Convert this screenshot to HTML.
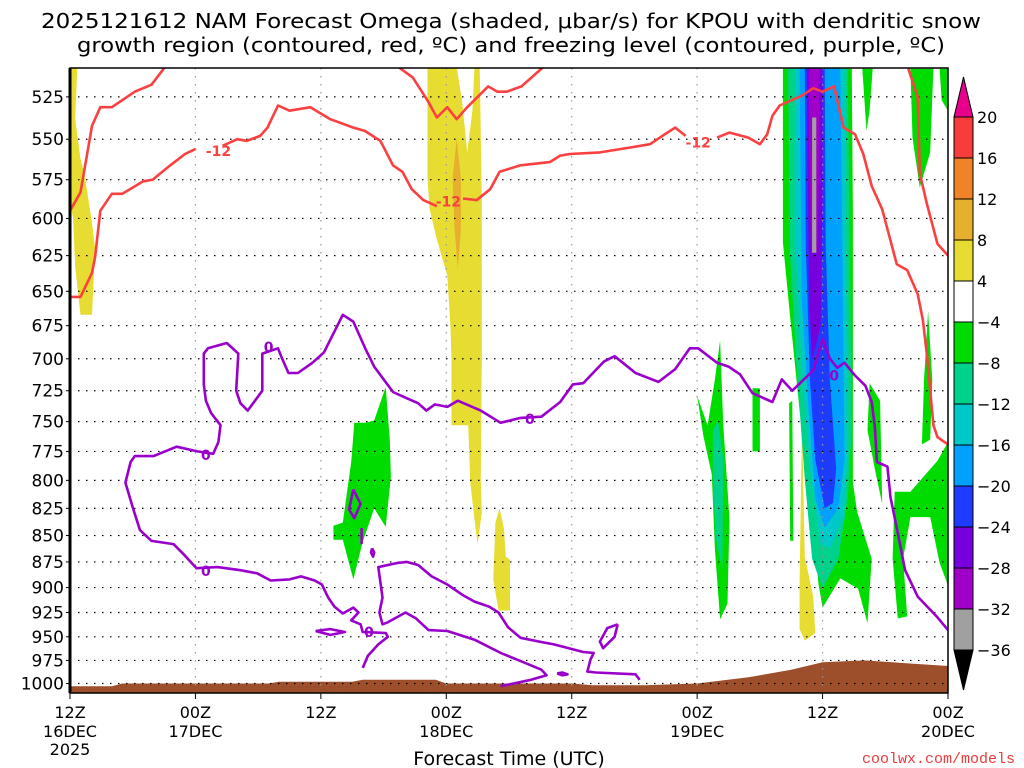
<!DOCTYPE html>
<html><head><meta charset="utf-8">
<style>
html,body{margin:0;padding:0;background:#fff;}
svg{display:block;font-family:"DejaVu Sans","Liberation Sans",sans-serif;}
</style></head>
<body>
<svg id="chart" width="1024" height="768" viewBox="0 0 1024 768" xmlns="http://www.w3.org/2000/svg">
<text x="511" y="28" font-size="20" text-anchor="middle" textLength="940" lengthAdjust="spacingAndGlyphs">2025121612 NAM Forecast Omega (shaded, μbar/s) for KPOU with dendritic snow</text>
<text x="511" y="52" font-size="20" text-anchor="middle" textLength="868" lengthAdjust="spacingAndGlyphs">growth region (contoured, red, ºC) and freezing level (contoured, purple, ºC)</text>
<g id="plot"></g>
<g id="cbar"></g>
<text x="509" y="765" font-size="19" text-anchor="middle">Forecast Time (UTC)</text>
<text x="1015" y="763" font-size="15" text-anchor="end" fill="#e83c3c" font-family="Liberation Mono, monospace">coolwx.com/models</text>
</svg>
<script>
// ---- data ----
const pressureTicks=[525,550,575,600,625,650,675,700,725,750,775,800,825,850,875,900,925,950,975,1000];
const timeTicks=[0,12,24,36,48,60,72,84];
const timeLabels=["12Z","00Z","12Z","00Z","12Z","00Z","12Z","00Z"];
const dateLabels=["16DEC","17DEC","","18DEC","","19DEC","","20DEC"];
const cbarLevels=[20,16,12,8,4,-4,-8,-12,-16,-20,-24,-28,-32,-36];
const cbarColors=["#f83c3c","#f08228","#e6af2d","#e6dc32","#ffffff","#00dc00","#00d28c","#00c8c8","#00a0ff","#1e3cff","#7800dc","#a000c8","#a0a0a0"];
const terrainHours=[0,4,5,19,20,27,28,35,36,48,50,55,60,65,69,72,76,80,84];
const terrainPres=[1003,1003,1000,1000,998,998,996,996,1000,1000,1002,1002,1000,993,985,977,975,978,981];
const yellowAreas=[
[[0,508],[0.7,508],[0.5,538],[1.0,562],[1.4,572],[2.1,603],[2.4,620],[2.1,667],[1.0,667],[0.5,633],[0.3,600],[0,588]],
[[34.2,508],[37.0,508],[37.5,527],[38.0,558],[38.5,533],[38.7,508],[39.2,508],[39.4,586],[39.4,701],[39.3,799],[39.4,829],[39.0,858],[38.7,835],[38.3,802],[38.1,753],[36.5,753],[36.5,701],[36.4,676],[36.1,639],[35.1,614],[34.4,594],[34.2,574]],
[[41.1,825],[41.5,843],[41.7,870],[42.1,873],[42.1,923],[41.0,923],[40.5,892],[40.7,838]],
[[70.0,737],[70.3,870],[71.1,909],[71.3,946],[70.3,954],[69.8,942],[69.8,895],[70.0,768]]];
const orangeAreas=[[[37.0,550],[37.4,574],[37.4,607],[37.1,634],[36.8,607],[36.6,574]]];
const greenAreas=[
[[68.2,509],[74.8,509],[74.9,595],[74.9,802],[75.3,828],[76.7,872],[76.3,936],[75.4,901],[73.7,891],[72.0,920],[71.6,896],[70.8,799],[69.8,741],[68.9,669],[68.2,616]],
[[60.0,729],[60.6,762],[61.4,795],[61.7,863],[62.2,932],[62.9,916],[63.1,835],[62.5,753],[62.2,686],[61.7,716],[61.0,753]],
[[65.3,723],[66.0,723],[66.0,775],[65.3,775]],
[[68.8,735],[69.1,733],[69.2,855],[68.9,855]],
[[76.5,719],[77.5,733],[77.7,821],[77.0,790],[76.3,757]],
[[78.9,810],[80.4,810],[83.0,783],[84,767],[84,898],[83.2,876],[82.3,833],[80.4,833],[79.7,872],[80.1,929],[79.2,931],[78.7,872]],
[[82.1,664],[82.5,717],[82.3,765],[81.5,769],[81.7,717]],
[[80.4,509],[82.6,509],[82.3,558],[81.3,580],[80.6,549]],
[[75.8,509],[76.8,509],[76.5,533],[76.2,545]],
[[30.2,722],[30.6,765],[30.7,797],[30.2,842],[29.1,825],[28.0,856],[27.1,892],[26.1,854],[25.2,854],[25.2,841],[26.1,838],[26.9,784],[27.2,751],[28.3,751],[29.1,749]],
[[83.2,509],[84,509],[84,533],[83.4,527]]];
const tealAreas=[
[[68.7,509],[74.4,509],[74.6,619],[74.8,757],[74.4,816],[73.5,872],[72.0,901],[71.0,872],[70.3,799],[69.6,717],[68.9,626]],
[[61.5,757],[62.0,749],[62.5,782],[62.4,882],[61.8,853],[61.5,799]]];
const cyanAreas=[[[69.4,509],[74.1,509],[74.3,655],[74.4,773],[74.0,834],[72.7,862],[71.8,858],[70.8,790],[70.1,717],[69.4,619]]];
const lightBlueAreas=[[[69.8,509],[73.7,509],[73.9,619],[74.1,782],[73.5,825],[72.2,843],[71.3,816],[70.6,733],[70.0,655]]];
const darkBlueAreas=[[[70.3,509],[72.2,509],[72.3,619],[72.7,717],[73.3,790],[73.0,820],[72.2,825],[71.3,782],[70.8,717],[70.4,619]]];
const purpleAreas=[[[70.5,509],[72.0,509],[72.0,586],[71.8,676],[71.0,701],[70.7,655]]];
const magentaAreas=[[[70.7,509],[71.7,509],[71.7,556],[71.5,623],[70.9,623],[70.7,556]]];
const grayAreas=[[[71.0,537],[71.4,537],[71.4,623],[71.0,623]]];
const redLines=[
[[9.1,508],[7.8,518],[6.2,522],[4.0,531],[2.9,531],[2.1,542],[1.4,568],[1.0,583],[0,595]],
[[0,654],[1.0,654],[2.1,637],[2.4,626],[2.9,595],[4.0,584],[5.0,584],[7.0,576],[7.9,575],[9.6,566],[11.0,559],[12.0,556]],
[[14.6,554],[16.0,550],[16.9,551],[18.2,548],[18.9,543],[19.9,530],[21.0,533],[23.0,531],[24.9,538],[27.1,543],[28.2,545],[29.7,551],[30.9,566],[31.8,570],[32.7,581],[33.8,588],[35.1,592]],
[[37.6,587],[38.9,588],[40.2,581],[41.1,570],[43.1,566],[45.9,564],[46.9,560],[47.8,559],[50.7,558],[53.6,555],[55.5,553],[56.9,547],[57.9,543],[58.9,548]],
[[61.9,549],[63.1,546],[64.9,549],[66.0,553],[66.7,547],[67.2,536],[67.9,530],[70.1,524],[71.1,520],[72.0,522],[73.1,519],[74.0,543],[75.1,547],[75.9,559],[76.7,579],[77.7,594],[79.1,631],[80.1,635],[81.1,652],[81.6,671],[82.0,698],[82.6,753],[83.0,763],[84,769]],
[[80.2,509],[81.1,525],[81.3,571],[82.0,591],[83.0,617],[84,625]],
[[31.4,508],[32.8,514],[34.2,527],[35.1,537],[36.1,531],[37.0,538],[38.0,531],[39.0,525],[40.0,519],[40.9,522],[41.8,522],[43.2,519],[45.3,508]]];
const redLabelPos=[[14.2,557],[36.2,589],[60.1,552]];
const purpleLines=[
[[28.0,983],[28.5,970],[29.5,958],[30.4,950],[30.2,946],[28.0,945],[27.8,937],[26.9,933],[27.6,925],[27.1,920],[26.1,926],[25.3,919],[24.7,910],[24.1,897],[23.4,893],[22.1,889],[21.0,892],[19.2,893],[17.9,886],[16.3,883],[14.1,880],[12.1,881],[11.0,869],[9.9,858],[7.8,855],[6.7,845],[6.0,824],[5.3,802],[5.8,784],[6.2,779],[8.0,779],[10.2,771],[12.2,775],[13.7,777],[14.2,767],[14.4,753],[13.5,743],[13.0,733],[12.8,720],[12.8,696],[13.2,692],[15.0,688],[16.1,696],[15.9,725],[16.3,735],[17.0,741],[17.7,733],[18.4,725],[18.4,696],[19.9,692],[20.3,700],[20.9,711],[21.8,711],[23.2,703],[24.3,695],[26.1,667],[27.1,672],[28.3,693],[29.1,706],[30.9,726],[32.2,731],[33.3,735],[34.1,741],[34.9,736],[36.1,738],[37.1,733],[39.3,741],[41.2,751],[43.1,747],[45.1,746],[46.9,734],[48.1,720],[49.1,719],[51.1,702],[52.1,698],[54.1,711],[56.3,718],[57.9,708],[59.3,692],[60.1,692],[61.9,703],[63.0,706],[64.1,712],[65.3,727],[67.2,734],[68.1,716],[69.1,725],[71.1,709],[72.0,685],[72.7,700],[73.4,707],[74.1,703],[75.1,713],[76.1,721],[76.7,734],[77.0,754],[77.2,784],[78.2,788],[78.5,815],[79.1,843],[79.9,883],[81.1,909],[83.0,930],[84,943]],
[[41.2,1003],[44.1,996],[45.6,991],[45.1,985],[43.4,977],[41.2,967],[38.7,953],[36.1,944],[34.3,943],[33.1,931],[32.1,925],[30.4,935],[29.9,937],[29.6,925],[29.9,910],[29.5,880],[31.3,876],[32.2,875],[33.3,878],[34.6,889],[36.1,897],[37.5,907],[38.7,914],[40.1,919],[41.0,925],[41.9,940],[43.1,951],[44.9,955],[46.3,958],[49.1,966],[50.1,967],[49.8,974],[49.5,987],[50.3,988],[54.1,990],[54.5,996]],
[[27.1,808],[27.8,821],[27.2,834],[26.7,826],[27.1,808]],
[[23.5,944],[24.9,942],[26.3,945],[24.9,948],[23.5,944]],
[[28.9,862],[29.1,866],[29.0,870],[28.8,866],[28.9,862]],
[[27.9,843],[27.9,858]],
[[46.6,989],[47.1,988],[47.6,990],[47.1,991],[46.6,989]],
[[52.4,937],[52.1,950],[51.0,962],[50.7,955],[51.4,941],[52.4,937]]];
const purpleLabelPos=[[13.0,778],[19.0,691],[44.0,748],[73.1,713],[13.0,884],[28.6,945]];

// ---- axes ----
const X0=70,X1=948,Y0=68,Y1=693,H0=0,H1=84,PTOP=508.6,PBOT=1010.5;
function xs(h){return X0+(h-H0)/(H1-H0)*(X1-X0);}
function ys(p){return Y0+Math.log(p/PTOP)/Math.log(PBOT/PTOP)*(Y1-Y0);}
const NS="http://www.w3.org/2000/svg";
function mk(tag,attrs,parent){const e=document.createElementNS(NS,tag);for(const k in attrs)e.setAttribute(k,attrs[k]);parent.appendChild(e);return e;}
const plot=document.getElementById('plot');
const defs=mk('defs',{},plot);
const cp=mk('clipPath',{id:'clip'},defs);
mk('rect',{x:X0,y:Y0,width:X1-X0,height:Y1-Y0},cp);
const inner=mk('g',{'clip-path':'url(#clip)'},plot);


function ptsStr(arr){return arr.map(d=>xs(d[0]).toFixed(1)+','+ys(d[1]).toFixed(1)).join(' ');}
function fillAreas(list,color,name){
  list.forEach(a=>{const e=mk('polygon',{points:ptsStr(a),fill:color},inner);
    
    });
}
fillAreas(yellowAreas,"#e6dc32","omega-shade-4-8");
fillAreas(orangeAreas,"#e6af2d","omega-shade-8-12");
fillAreas(greenAreas,"#00dc00","omega-shade-neg4-neg8");
fillAreas(tealAreas,"#00d28c","omega-shade-neg8-neg12");
fillAreas(cyanAreas,"#00c8c8","omega-shade-neg12-neg16");
fillAreas(lightBlueAreas,"#00a0ff","omega-shade-neg16-neg20");
fillAreas(darkBlueAreas,"#1e3cff","omega-shade-neg20-neg24");
fillAreas(purpleAreas,"#7800dc","omega-shade-neg24-neg28");
fillAreas(magentaAreas,"#a000c8","omega-shade-neg28-neg32");
fillAreas(grayAreas,"#a0a0a0","omega-shade-neg32-neg36");
// terrain
{let pts=terrainHours.map((h,i)=>[h,terrainPres[i]]);
 let s=ptsStr(pts)+' '+xs(84)+','+(Y1+5)+' '+xs(0)+','+(Y1+5);
 const t=mk('polygon',{points:s,fill:'#9c4f2a'},inner);
 
 }
// grid
pressureTicks.forEach(p=>{const g=mk('line',{x1:X0,x2:X1,y1:ys(p),y2:ys(p),stroke:'#000','stroke-width':1.2,'stroke-dasharray':'1.5,6.5'},inner);
  
  });
timeTicks.forEach(h=>{if(h===0||h===84)return;const g=mk('line',{x1:xs(h),x2:xs(h),y1:Y0,y2:Y1,stroke:'#999','stroke-width':1.2,'stroke-dasharray':'1.5,6.5'},inner);
  
  });
// contours
redLines.forEach(l=>{const e=mk('polyline',{points:ptsStr(l),fill:'none',stroke:'#fa4040','stroke-width':2.6,'stroke-linejoin':'round'},inner);
  
  });
purpleLines.forEach(l=>{const e=mk('polyline',{points:ptsStr(l),fill:'none',stroke:'#9a00cc','stroke-width':2.6,'stroke-linejoin':'round'},inner);
  
  });
redLabelPos.forEach(d=>{const e=mk('text',{x:xs(d[0]),y:ys(d[1])+5,'font-size':14,'font-weight':'bold',fill:'#fa4040','text-anchor':'middle'},inner);
  e.textContent='-12';
  
  });
purpleLabelPos.forEach(d=>{
  const e=mk('text',{x:xs(d[0]),y:ys(d[1])+5,'font-size':14,'font-weight':'bold',fill:'#9a00cc','text-anchor':'middle'},inner);
  e.textContent='0';
  
  });
// frame
{const f=mk('rect',{x:X0,y:Y0,width:X1-X0,height:Y1-Y0,fill:'none',stroke:'#000','stroke-width':1.5},plot);
 
 
 const l=mk('line',{x1:X0,x2:X0,y1:Y0,y2:Y1,stroke:'#000','stroke-width':3},plot);
 
 }
// y ticks
pressureTicks.forEach(p=>{const t=mk('text',{x:64,y:ys(p)+6,'font-size':17,'text-anchor':'end'},plot);
  t.textContent=p;
  
  
  const k=mk('line',{x1:X0-4,x2:X0,y1:ys(p),y2:ys(p),stroke:'#000','stroke-width':1},plot);
  
  });
// x ticks
timeTicks.forEach((h,i)=>{const x=xs(h);
  const k=mk('line',{x1:x,x2:x,y1:Y1,y2:Y1+6,stroke:'#000','stroke-width':1},plot);
  
  
  const t=mk('text',{x:x,y:718,'font-size':16,'text-anchor':'middle'},plot);
  t.textContent=timeLabels[i];
  
  
  if(dateLabels[i]){const d=mk('text',{x:x,y:737,'font-size':16,'text-anchor':'middle'},plot);
    d.textContent=dateLabels[i];
    
    }});
{const yr=mk('text',{x:xs(0),y:755,'font-size':16,'text-anchor':'middle'},plot);
 yr.textContent='2025';
 
 }
// colorbar
const cb=document.getElementById('cbar');
const CBX=954,CBW=19,CBTOP=117,CBSTEP=41;
function cby(i){return CBTOP+i*CBSTEP;}
{const tr=mk('polygon',{points:`${CBX},${cby(0)} ${CBX+CBW},${cby(0)} ${CBX+CBW/2},${cby(0)-40}`,fill:'#e6008c',stroke:'#000','stroke-width':1},cb);
 
 }
cbarColors.forEach((c,i)=>{const r=mk('rect',{x:CBX,y:cby(i),width:CBW,height:CBSTEP,fill:c,stroke:'#000','stroke-width':1},cb);
  
  });
{const n=cbarColors.length;const tr=mk('polygon',{points:`${CBX},${cby(n)} ${CBX+CBW},${cby(n)} ${CBX+CBW/2},${cby(n)+40}`,fill:'#000',stroke:'#000','stroke-width':1},cb);
 
 }
cbarLevels.forEach((v,i)=>{const t=mk('text',{x:977,y:cby(i)+6,'font-size':16},cb);
  t.textContent=v<0?'\u2212'+(-v):String(v);
  
  });
</script>
</body></html>
